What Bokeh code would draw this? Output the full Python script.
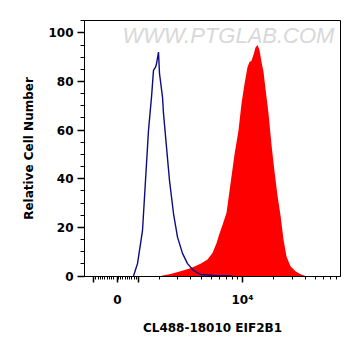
from bokeh.plotting import figure
from bokeh.models import FixedTicker, SingleIntervalTicker, Range1d, Label
from bokeh.embed import file_html
from bokeh.resources import INLINE

# x values are in logicle display channels (0..256)
blue_x = [49, 53, 58, 61, 64, 67, 69, 71, 72, 74, 75, 78, 79, 82, 85, 89, 93, 98, 103, 109, 116, 130, 148]
blue_y = [0, 5.1, 18.7, 39.3, 59.9, 73.6, 84.6, 85.9, 87.3, 92.1, 83.3, 73.6, 66.9, 53, 39.3, 25.7, 16, 9.3, 5.1, 2.3, 0.6, 0.2, 0]

red_x = [76, 86, 96, 106, 116, 123, 128, 132, 135, 138, 142, 146, 150, 154, 157, 160, 163, 165,
         167, 169, 171, 173, 175, 177, 179, 181, 184, 187, 190, 193, 196, 199, 202, 206, 211, 216, 221]
red_y = [0, 0.8, 2.0, 3.2, 5.0, 6.8, 9.5, 13.5, 17.5, 21, 26, 38, 50, 60, 71, 79, 86, 88,
         88.5, 91, 94, 95, 93, 88, 84, 77, 67, 54, 43, 33, 25, 15, 8, 4, 2, 0.7, 0]

x_major = [9, 33, 54, 158]
x_labels = {9: "", 33: "0", 54: "", 158: "10\u2074"}
x_minor = [11.25 + 2.25 * k for k in range(19) if k != 9] + \
          [75, 93, 106, 117, 127, 135, 142, 148, 153] + \
          [189, 208, 221, 231, 239, 246, 252]

x_title = "CL488-18010 EIF2B1"
y_title = "Relative Cell Number"
watermark = "WWW.PTGLAB.COM"

p = figure(width=353, height=348, output_backend="svg", toolbar_location=None,
           x_range=Range1d(0, 256), y_range=Range1d(-0.2, 105.1),
           min_border_left=84, min_border_right=13, min_border_top=20, min_border_bottom=72)
p.grid.visible = False
p.outline_line_color = "black"
p.outline_line_width = 1
p.background_fill_color = "white"

p.varea(x=red_x, y1=0, y2=red_y, fill_color="#ff0000")
p.line(blue_x, blue_y, line_color="#0c0c80", line_width=1.4)

p.add_layout(Label(x=144, y=99, text=watermark, text_align="center", text_baseline="middle",
                   text_font="Liberation Sans", text_font_style="italic", text_font_size="22px",
                   text_color="#d8d8d8"))

ticker = FixedTicker(ticks=x_major, minor_ticks=x_minor)
p.xaxis.ticker = ticker
p.xaxis.major_label_overrides = x_labels
p.yaxis.ticker = SingleIntervalTicker(interval=20, num_minor_ticks=4)

for ax in (p.xaxis[0], p.yaxis[0]):
    ax.axis_line_color = "black"
    ax.major_tick_line_color = "black"
    ax.minor_tick_line_color = "black"
    ax.major_tick_line_width = 1.5
    ax.major_tick_in = 0
    ax.minor_tick_in = 0
    ax.major_label_text_font = "DejaVu Sans"
    ax.major_label_text_font_style = "bold"
    ax.major_label_text_font_size = "12px"
    ax.major_label_text_color = "black"
    ax.axis_label_text_font = "DejaVu Sans"
    ax.axis_label_text_font_style = "bold"
    ax.axis_label_text_font_size = "12px"
    ax.axis_label_text_color = "black"

p.xaxis.major_tick_out = 6
p.xaxis.minor_tick_out = 3
p.xaxis.major_label_standoff = 10
p.xaxis.axis_label = x_title
p.xaxis.axis_label_standoff = 11

p.yaxis.major_tick_out = 7
p.yaxis.minor_tick_out = 4
p.yaxis.major_label_standoff = 4
p.yaxis.axis_label = y_title
p.yaxis.axis_label_standoff = 9

open("out.html", "w").write(file_html(p, INLINE))
